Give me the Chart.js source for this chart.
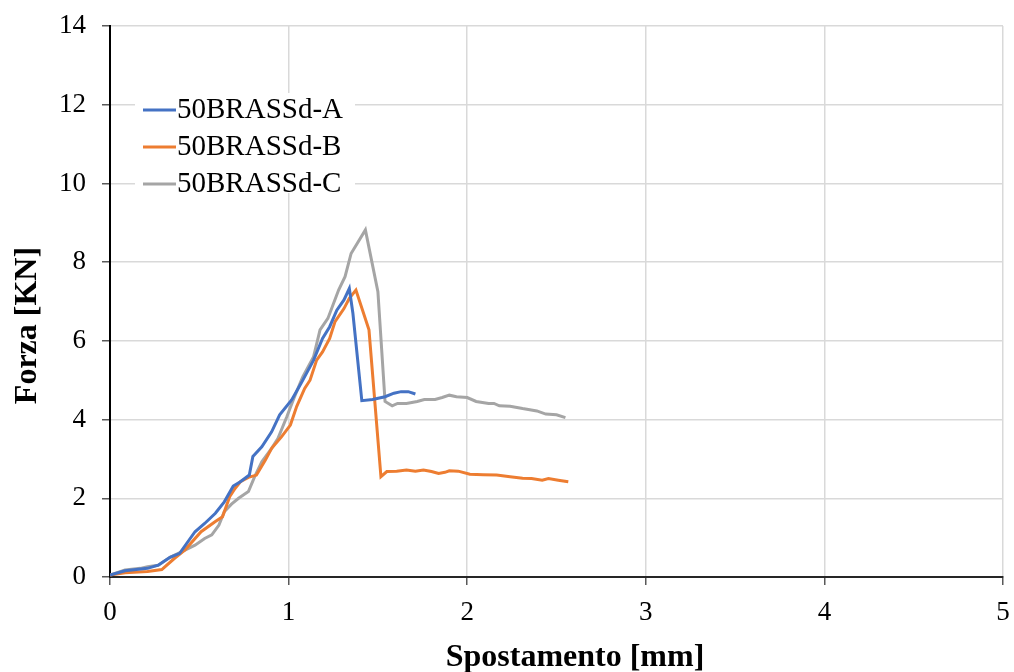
<!DOCTYPE html>
<html>
<head>
<meta charset="utf-8">
<script src="https://cdn.jsdelivr.net/npm/chart.js@4/dist/chart.umd.min.js"></script>
<style>
  html, body { margin: 0; padding: 0; background: #ffffff; }
  #wrap { width: 1014px; height: 672px; }
</style>
</head>
<body>
<div id="wrap"><canvas id="chart" width="1014" height="672"></canvas></div>
<script>
// Load–displacement curves for the three 50BRASSd specimens
const seriesNames = ['50BRASSd-A', '50BRASSd-B', '50BRASSd-C'];
const xTickValues = [0, 1, 2, 3, 4, 5];
const yTickValues = [0, 2, 4, 6, 8, 10, 12, 14];
const xTitle = 'Spostamento [mm]';
const yTitle = 'Forza [KN]';

// Specimen A: displacement [mm] and force [kN]
const dispA = [0, 0.084, 0.21, 0.27, 0.336, 0.39, 0.476, 0.53, 0.59, 0.64, 0.69, 0.73, 0.78, 0.80, 0.85, 0.905, 0.95, 1.017, 1.07, 1.14, 1.19, 1.23, 1.27, 1.31, 1.34, 1.36, 1.41, 1.47, 1.54, 1.59, 1.63, 1.67, 1.71];
const forceA = [0.05, 0.16, 0.22, 0.30, 0.50, 0.60, 1.15, 1.36, 1.62, 1.91, 2.31, 2.42, 2.59, 3.06, 3.31, 3.69, 4.12, 4.50, 4.92, 5.51, 6.06, 6.36, 6.78, 7.04, 7.33, 6.70, 4.48, 4.51, 4.58, 4.67, 4.71, 4.71, 4.65];

// Specimen B
const dispB = [0, 0.084, 0.21, 0.29, 0.36, 0.42, 0.51, 0.59, 0.63, 0.67, 0.70, 0.73, 0.775, 0.82, 0.87, 0.905, 0.96, 1.01, 1.045, 1.09, 1.12, 1.157, 1.19, 1.23, 1.26, 1.31, 1.34, 1.377, 1.45, 1.517, 1.55, 1.605, 1.66, 1.71, 1.755, 1.80, 1.84, 1.875, 1.90, 1.95, 2.015, 2.09, 2.165, 2.24, 2.31, 2.36, 2.42, 2.455, 2.51, 2.566];
const forceB = [0.05, 0.11, 0.14, 0.19, 0.47, 0.69, 1.15, 1.41, 1.53, 2.04, 2.25, 2.42, 2.53, 2.59, 2.97, 3.27, 3.56, 3.86, 4.33, 4.79, 5.00, 5.51, 5.72, 6.06, 6.49, 6.82, 7.08, 7.29, 6.28, 2.55, 2.68, 2.69, 2.72, 2.69, 2.72, 2.68, 2.63, 2.66, 2.70, 2.69, 2.61, 2.60, 2.59, 2.55, 2.51, 2.50, 2.46, 2.50, 2.46, 2.42];

// Specimen C
const dispC = [0, 0.084, 0.17, 0.21, 0.27, 0.336, 0.40, 0.476, 0.53, 0.57, 0.61, 0.64, 0.68, 0.72, 0.775, 0.81, 0.85, 0.905, 0.94, 0.99, 1.026, 1.064, 1.08, 1.14, 1.176, 1.22, 1.28, 1.316, 1.35, 1.43, 1.50, 1.54, 1.58, 1.61, 1.66, 1.72, 1.76, 1.82, 1.86, 1.90, 1.94, 2.00, 2.05, 2.12, 2.15, 2.18, 2.24, 2.31, 2.39, 2.44, 2.50, 2.55];
const forceC = [0.05, 0.18, 0.22, 0.26, 0.30, 0.50, 0.64, 0.81, 0.98, 1.07, 1.32, 1.66, 1.85, 2.00, 2.17, 2.55, 2.93, 3.27, 3.52, 4.07, 4.50, 4.92, 5.09, 5.60, 6.28, 6.57, 7.29, 7.63, 8.22, 8.82, 7.25, 4.46, 4.35, 4.41, 4.41, 4.46, 4.51, 4.51, 4.56, 4.62, 4.58, 4.56, 4.46, 4.41, 4.41, 4.35, 4.34, 4.28, 4.22, 4.14, 4.12, 4.05];

const seriesColors = ['#4472C4', '#ED7D31', '#A5A5A5'];
const SERIF = '"Liberation Serif", "Times New Roman", serif';

function toPoints(xs, ys) {
  return xs.map((x, i) => ({ x: x, y: ys[i] }));
}

// Legend drawn inside the plot area on a white panel
const insideLegend = {
  id: 'insideLegend',
  beforeDatasetsDraw(chart, args, o) {
    const ctx = chart.ctx;
    const a = chart.chartArea;
    ctx.save();
    ctx.fillStyle = '#ffffff';
    ctx.fillRect(a.left + o.boxX, a.top + o.boxY, o.boxW, o.boxH);
    ctx.font = o.fontSize + 'px ' + SERIF;
    ctx.textBaseline = 'middle';
    ctx.textAlign = 'left';
    chart.data.datasets.forEach((ds, i) => {
      const cy = a.top + o.firstY + i * o.spacing;
      ctx.strokeStyle = ds.borderColor;
      ctx.lineWidth = 3;
      ctx.beginPath();
      ctx.moveTo(a.left + o.lineX0, cy);
      ctx.lineTo(a.left + o.lineX1, cy);
      ctx.stroke();
      ctx.fillStyle = '#000000';
      ctx.fillText(ds.label, a.left + o.textX, cy);
    });
    ctx.restore();
  }
};

// Bold axis titles
const axisTitles = {
  id: 'axisTitles',
  afterDraw(chart, args, o) {
    const ctx = chart.ctx;
    const a = chart.chartArea;
    ctx.save();
    ctx.fillStyle = '#000000';
    ctx.font = 'bold ' + o.fontSize + 'px ' + SERIF;
    ctx.textAlign = 'center';
    ctx.textBaseline = 'middle';
    ctx.fillText(xTitle, (a.left + a.right) / 2 + o.xShift, o.xTitleY);
    ctx.translate(o.yTitleX, (a.top + a.bottom) / 2 + o.yShift);
    ctx.rotate(-Math.PI / 2);
    ctx.fillText(yTitle, 0, 0);
    ctx.restore();
  }
};

const datasets = [
  [dispA, forceA],
  [dispB, forceB],
  [dispC, forceC]
].map((pair, i) => ({
  label: seriesNames[i],
  data: toPoints(pair[0], pair[1]),
  borderColor: seriesColors[i],
  backgroundColor: seriesColors[i],
  borderWidth: 3,
  pointRadius: 0,
  showLine: true,
  tension: 0,
  fill: false
}));

// The plot frame is fixed by layout padding alone
function fixScaleBox(scale, size) {
  if (scale.isHorizontal()) {
    scale.height = size;
  } else {
    scale.width = size;
  }
  scale.paddingLeft = 0;
  scale.paddingRight = 0;
  scale.paddingTop = 0;
  scale.paddingBottom = 0;
}

new Chart(document.getElementById('chart'), {
  type: 'scatter',
  data: { datasets: datasets },
  plugins: [insideLegend, axisTitles],
  options: {
    responsive: false,
    devicePixelRatio: 1,
    animation: false,
    layout: { padding: { top: 26, right: 11, left: 0, bottom: 0 } },
    plugins: {
      legend: { display: false },
      tooltip: { enabled: false },
      insideLegend: {
        boxX: 25, boxY: 67, boxW: 220, boxH: 100,
        firstY: 84, spacing: 37, lineX0: 33, lineX1: 66, textX: 67, fontSize: 29
      },
      axisTitles: { fontSize: 32, xTitleY: 658, xShift: 18.5, yTitleX: 28, yShift: 24 }
    },
    scales: {
      x: {
        type: 'linear',
        min: 0,
        max: 5,
        afterFit(scale) { fixScaleBox(scale, 95); },
        afterBuildTicks(scale) { scale.ticks = xTickValues.map(v => ({ value: v })); },
        ticks: {
          color: '#000000',
          padding: 12,
          font: { family: SERIF, size: 27 },
          maxRotation: 0
        },
        grid: { color: '#d9d9d9', lineWidth: 1.5, tickLength: 8, tickColor: '#595959', tickWidth: 1.5 },
        border: { display: true, color: '#262626', width: 2 }
      },
      y: {
        type: 'linear',
        min: 0,
        max: 14,
        afterFit(scale) { fixScaleBox(scale, 110); },
        afterBuildTicks(scale) { scale.ticks = yTickValues.map(v => ({ value: v })); },
        ticks: {
          color: '#000000',
          padding: 16,
          font: { family: SERIF, size: 27 }
        },
        grid: { color: '#d9d9d9', lineWidth: 1.5, tickLength: 8, tickColor: '#595959', tickWidth: 1.5 },
        border: { display: true, color: '#000000', width: 2 }
      }
    }
  }
});
</script>
</body>
</html>
